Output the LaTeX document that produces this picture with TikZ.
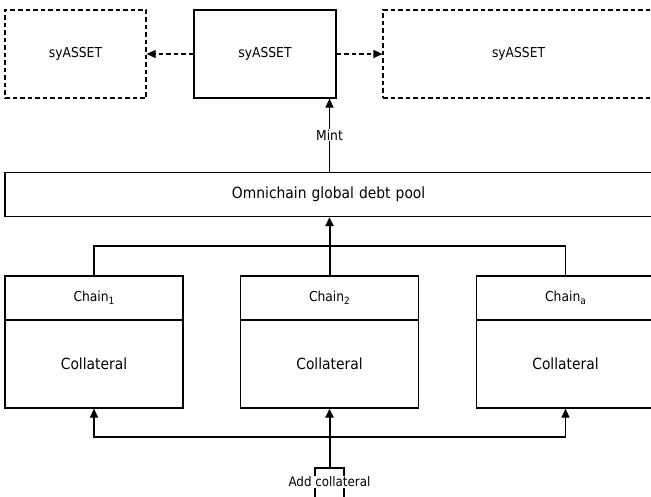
\documentclass[tikz,border=0pt]{standalone}
\usepackage{fontspec}
\setmainfont{DejaVu Sans Condensed}
\usetikzlibrary{arrows.meta}
\newcommand{\lowsub}[1]{\raisebox{-3pt}{\fontsize{10}{11}\selectfont #1}}
\tikzset{
  box/.style={draw, line width=1.2pt, fill=white, inner sep=0pt},
  dbox/.style={box, dash pattern=on 4.5pt off 3pt},
  conn/.style={line width=1.2pt},
  arr/.style={conn, -{Triangle[length=9pt,width=8pt]}},
  darr/.style={arr, dash pattern=on 4.5pt off 3pt},
  lbl/.style={fill=white, inner sep=1pt, font=\fontsize{13.2}{15}\selectfont},
  hdr/.style={box, minimum width=178pt, minimum height=44pt, font=\fontsize{13.7}{15}\selectfont},
  body/.style={box, minimum width=178pt, minimum height=88pt, font=\fontsize{15.4}{17}\selectfont},
}
\begin{document}
\begin{tikzpicture}[x=1pt,y=-1pt]
\useasboundingbox[fill=white] (0,0) rectangle (651,496);
\begin{scope}
\clip (0,0) rectangle (651,496);
% top row
\node[dbox, minimum width=141pt, minimum height=88pt, font=\fontsize{13.7}{15}\selectfont] (L) at (75.5,54) {syASSET};
\node[box, minimum width=142pt, minimum height=88pt, font=\fontsize{13.7}{15}\selectfont] (C) at (265,54) {syASSET};
\node[dbox, minimum width=277pt, minimum height=88pt, font=\fontsize{13.7}{15}\selectfont, text width=277pt, align=left] (R) at (521.5,54) {\hspace{109pt}syASSET};
% omnichain
\node[box, minimum width=651pt, minimum height=44pt, font=\fontsize{15.4}{17}\selectfont, text width=651pt, align=left] (O) at (330.5,194.5) {\hspace{227pt}Omnichain global debt pool};
% chains
\node[hdr] (c1h) at (94,298) {Chain\lowsub{1}};
\node[body] (c1b) at (94,364) {Collateral};
\node[hdr] (c2h) at (329.5,298) {Chain\lowsub{2}};
\node[body] (c2b) at (329.5,364) {Collateral};
\node[hdr] (cah) at (565.5,298) {Chain\lowsub{a}};
\node[body] (cab) at (565.5,364) {Collateral};
% bottom box
\node[box, minimum width=29pt, minimum height=36pt] (add) at (329.5,486) {};
\node[lbl] (addl) at (329.5,482) {Add collateral};
% connectors
\draw[darr] (C.west) -- (L.east);
\draw[darr] (C.east) -- (R.west);
\draw[arr] (O.north -| c2h.north) -- (C.south -| c2h.north) node[lbl, midway, font=\fontsize{13.7}{15}\selectfont] (mint) {Mint};
\coordinate (j) at (329.5,246);
\draw[conn] (c1h.north) |- (j) -| (cah.north);
\draw[arr, line width=2pt] (c2h.north) -- (O.south -| c2h.north);
\coordinate (b) at (329.5,437);
\draw[arr] (b) -| (c1b.south);
\draw[arr] (b) -| (cab.south);
\draw[arr, line width=2pt] (add.north) -- (c2b.south);
\end{scope}
\end{tikzpicture}
\end{document}
